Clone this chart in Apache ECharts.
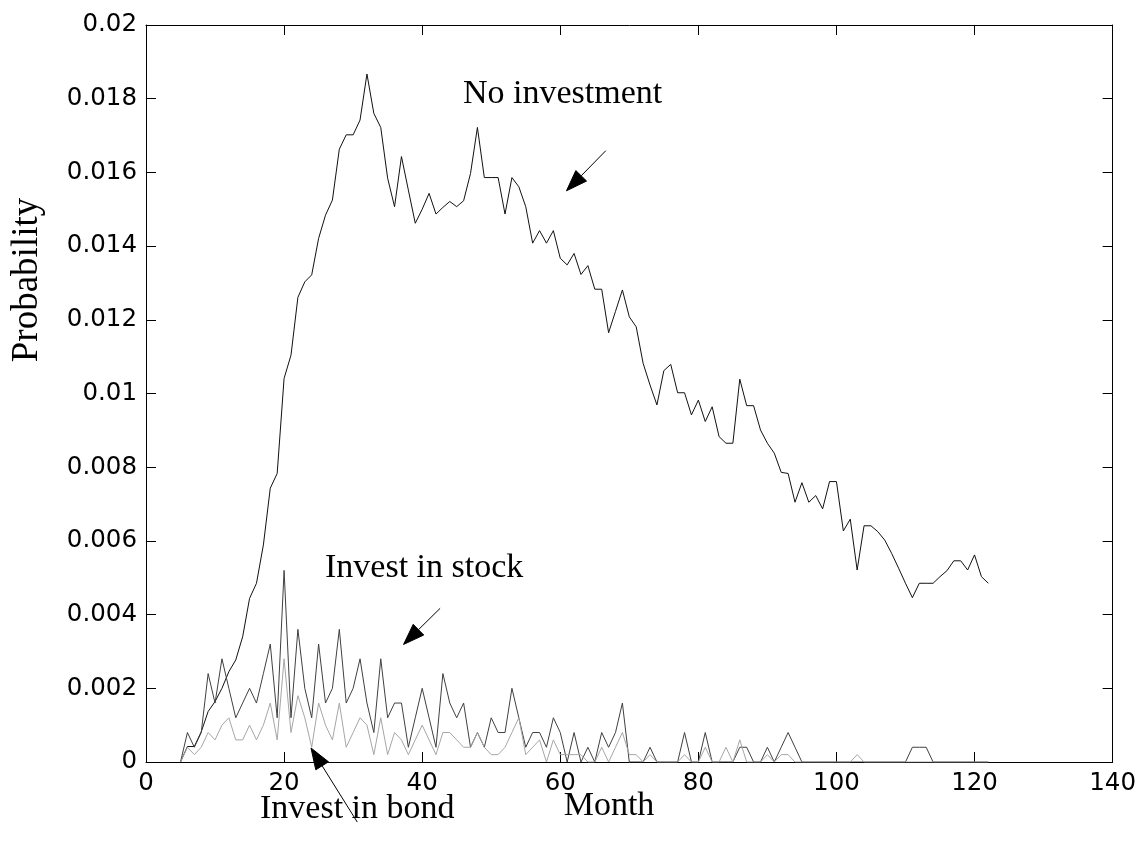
<!DOCTYPE html>
<html>
<head>
<meta charset="utf-8">
<script src="https://cdn.jsdelivr.net/npm/echarts@6/dist/echarts.min.js"></script>
<style>html,body{margin:0;padding:0;background:#fff}#c{width:1139px;height:850px}</style>
</head>
<body>
<div id="c"></div>
<script>
// Months of the first sample; one value per month after that
const firstMonth = 5;
const xTicks = [0, 20, 40, 60, 80, 100, 120, 140];
const yTicks = [0, 0.002, 0.004, 0.006, 0.008, 0.01, 0.012, 0.014, 0.016, 0.018, 0.02];

const noInvestment = [
  0, 0.00042, 0.00042, 0.00082, 0.00137, 0.00164, 0.00200, 0.00245, 0.00277, 0.00340,
  0.00444, 0.00485, 0.00589, 0.00743, 0.00783, 0.01041, 0.01104, 0.01261, 0.01303, 0.01322,
  0.01421, 0.01484, 0.01525, 0.01663, 0.01702, 0.01702, 0.01742, 0.01867, 0.01760, 0.01722,
  0.01584, 0.01507, 0.01643, 0.01552, 0.01462, 0.01500, 0.01543, 0.01487, 0.01505, 0.01521,
  0.01507, 0.01523, 0.01597, 0.01722, 0.01586, 0.01586, 0.01586, 0.01487, 0.01586, 0.01561,
  0.01507, 0.01408, 0.01442, 0.01408, 0.01442, 0.01367, 0.01349, 0.01380, 0.01323, 0.01347,
  0.01283, 0.01283, 0.01165, 0.01223, 0.01281, 0.01208, 0.01181, 0.01082, 0.01023, 0.00969,
  0.01062, 0.01079, 0.01002, 0.01002, 0.00942, 0.00982, 0.00924, 0.00964, 0.00883, 0.00865,
  0.00865, 0.01039, 0.00967, 0.00967, 0.00901, 0.00865, 0.00838, 0.00786, 0.00783, 0.00705,
  0.00758, 0.00705, 0.00723, 0.00687, 0.00761, 0.00761, 0.00627, 0.00659, 0.00521, 0.00641,
  0.00641, 0.00625, 0.00602, 0.00566, 0.00526, 0.00485, 0.00446, 0.00485, 0.00485, 0.00485,
  0.00503, 0.00519, 0.00546, 0.00546, 0.00521, 0.00562, 0.00503, 0.00485
];

const investStock = [
  0, 0.0008, 0.0004, 0.0008, 0.0024, 0.0016, 0.0028, 0.0020, 0.0012, 0.0016,
  0.0020, 0.0016, 0.0024, 0.0032, 0.0012, 0.0052, 0.0012, 0.0036, 0.0020, 0.0012,
  0.0032, 0.0016, 0.0020, 0.0036, 0.0016, 0.0020, 0.0028, 0.0016, 0.0008, 0.0028,
  0.0012, 0.0016, 0.0016, 0.0004, 0.0012, 0.0020, 0.0012, 0.0004, 0.0024, 0.0016,
  0.0012, 0.0016, 0.0004, 0.0008, 0.0004, 0.0012, 0.0008, 0.0008, 0.0020, 0.0012,
  0.0004, 0.0008, 0.0008, 0.0004, 0.0012, 0.0008, 0, 0.0008, 0, 0.0004,
  0, 0.0008, 0.0004, 0.0008, 0.0016, 0, 0, 0, 0.0004, 0,
  0, 0, 0, 0.0008, 0, 0, 0.0008, 0, 0, 0,
  0, 0.0004, 0.0004, 0, 0, 0.0004, 0, 0.0004, 0.0008, 0.0004,
  0, 0, 0, 0, 0, 0, 0, 0, 0, 0,
  0, 0, 0, 0, 0, 0, 0.0004, 0.0004, 0.0004, 0,
  0, 0, 0, 0, 0, 0, 0, 0
];

const investBond = [
  0, 0.0004, 0.0002, 0.0004, 0.0008, 0.0006, 0.0010, 0.0012, 0.0006, 0.0006,
  0.0010, 0.0006, 0.0010, 0.0016, 0.0006, 0.0028, 0.0008, 0.0018, 0.0012, 0.0004,
  0.0016, 0.0010, 0.0006, 0.0016, 0.0004, 0.0008, 0.0012, 0.0010, 0.0002, 0.0012,
  0.0002, 0.0008, 0.0006, 0.0002, 0.0006, 0.0010, 0.0006, 0.0002, 0.0008, 0.0008,
  0.0006, 0.0004, 0.0004, 0.0008, 0.0004, 0.0002, 0.0002, 0.0004, 0.0008, 0.0012,
  0.0002, 0.0004, 0.0006, 0, 0.0006, 0.0002, 0.0002, 0.0002, 0.0002, 0,
  0, 0.0004, 0, 0.0004, 0.0008, 0.0002, 0.0002, 0, 0.0002, 0,
  0, 0, 0, 0.0002, 0, 0, 0.0004, 0, 0, 0.0004,
  0, 0.0006, 0, 0, 0, 0.0002, 0, 0.0002, 0.0002, 0,
  0, 0, 0, 0, 0, 0, 0, 0, 0.0002, 0,
  0, 0, 0, 0, 0, 0, 0, 0, 0, 0,
  0, 0, 0, 0, 0, 0, 0, 0
];

const seriesNames = ['No investment', 'Invest in stock', 'Invest in bond'];

function pairs(arr) { return arr.map((v, i) => [firstMonth + i, v]); }

const chart = echarts.init(document.getElementById('c'), null, { renderer: 'canvas' });

const tickFont = { fontFamily: 'DejaVu Sans', fontSize: 24.5, color: '#000' };
const axisCommon = {
  axisLine: { show: true, onZero: false, lineStyle: { color: '#000', width: 1 } },
  axisTick: { show: true, inside: true, length: 10, lineStyle: { color: '#000', width: 1 } },
  splitLine: { show: false }
};

chart.setOption({
  animation: false,
  backgroundColor: '#fff',
  grid: { left: 146, right: 22, top: 25, bottom: 88, containLabel: false },
  xAxis: [
    Object.assign({ type: 'value', min: xTicks[0], max: xTicks[xTicks.length - 1], interval: 20, position: 'bottom',
      axisLabel: Object.assign({ margin: 9 }, tickFont) }, axisCommon),
    Object.assign({ type: 'value', min: xTicks[0], max: xTicks[xTicks.length - 1], interval: 20, position: 'top',
      axisLabel: { show: false } }, axisCommon)
  ],
  yAxis: [
    Object.assign({ type: 'value', min: yTicks[0], max: yTicks[yTicks.length - 1], interval: 0.002, position: 'left',
      axisLabel: Object.assign({ margin: 9, formatter: v => v === 0 ? '0' : String(+v.toFixed(3)) }, tickFont) }, axisCommon),
    Object.assign({ type: 'value', min: yTicks[0], max: yTicks[yTicks.length - 1], interval: 0.002, position: 'right',
      axisLabel: { show: false } }, axisCommon)
  ],
  series: [
    { name: seriesNames[0], type: 'line', data: pairs(noInvestment), showSymbol: false, symbol: 'none',
      lineStyle: { color: '#111', width: 1 }, z: 3 },
    { name: seriesNames[1], type: 'line', data: pairs(investStock), showSymbol: false, symbol: 'none',
      lineStyle: { color: '#404040', width: 1 }, z: 4 },
    { name: seriesNames[2], type: 'line', data: pairs(investBond), showSymbol: false, symbol: 'none',
      lineStyle: { color: '#a6a6a6', width: 1 }, z: 5 }
  ]
});

// Annotation arrows, given in data coordinates (tail -> tip)
const arrows = [
  [[66.6, 0.01659], [60.9, 0.0155]],
  [[42.6, 0.00417], [37.3, 0.00319]],
  [[30.6, -0.00163], [23.9, 0.00038]]
];
const graphics = [];
arrows.forEach(a => {
  const t = chart.convertToPixel({ gridIndex: 0 }, a[0]);
  const p = chart.convertToPixel({ gridIndex: 0 }, a[1]);
  const dx = p[0] - t[0], dy = p[1] - t[1];
  const len = Math.sqrt(dx * dx + dy * dy);
  const ux = dx / len, uy = dy / len;
  const L = 21, W = 7.5;
  const bx = p[0] - ux * L, by = p[1] - uy * L;
  graphics.push({ type: 'line', z: 20, shape: { x1: t[0], y1: t[1], x2: bx, y2: by }, style: { stroke: '#000', lineWidth: 1 } });
  graphics.push({ type: 'polygon', z: 20, shape: { points: [[p[0], p[1]], [bx - uy * W, by + ux * W], [bx + uy * W, by - ux * W]] },
    style: { fill: '#000', stroke: '#000', lineWidth: 1 } });
});
const serif = 'Liberation Serif';
const texts = [
  { t: seriesNames[0], x: 463, y: 94, align: 'left' },
  { t: seriesNames[1], x: 325, y: 568, align: 'left' },
  { t: seriesNames[2], x: 260, y: 809, align: 'left' },
  { t: 'Month', x: 609, y: 806, align: 'center' }
];
texts.forEach(o => graphics.push({ type: 'text', z: 20, x: o.x, y: o.y,
  style: { text: o.t, font: '34px "' + serif + '"', fill: '#000', textAlign: o.align, textVerticalAlign: 'middle' } }));
graphics.push({ type: 'text', z: 20, x: 27, y: 280, rotation: Math.PI / 2,
  style: { text: 'Probability', font: '37px "' + serif + '"', fill: '#000', textAlign: 'center', textVerticalAlign: 'middle' } });
chart.setOption({ graphic: graphics });
</script>
</body>
</html>
